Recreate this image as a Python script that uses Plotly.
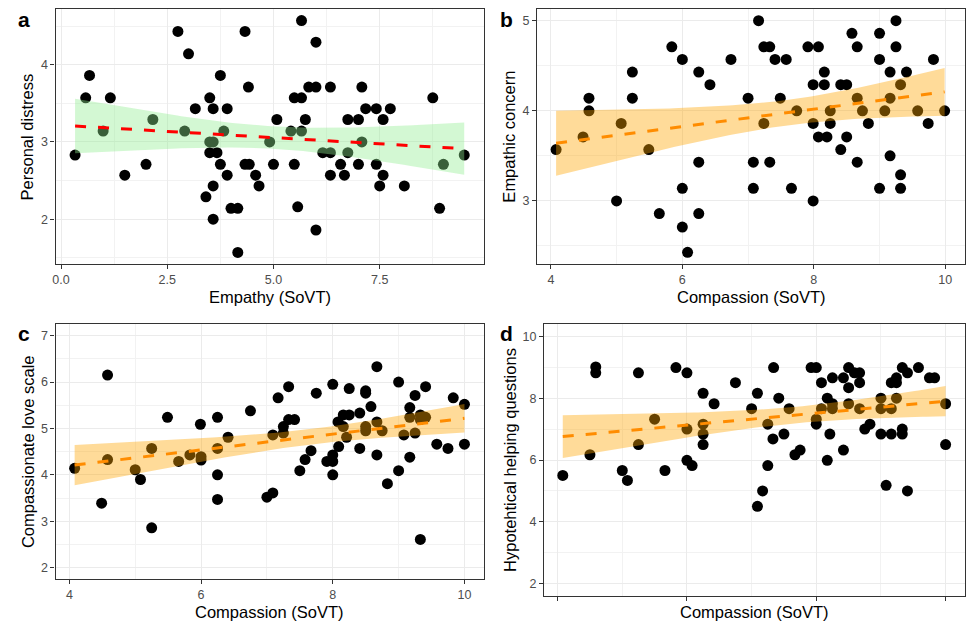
import numpy as np
import plotly.graph_objects as go

# ---------------- data ----------------
# Panel a: Empathy (SoVT) vs Personal distress
a_x = [0.33, 0.58, 0.67, 0.99, 1.16, 1.50, 2.00, 2.16, 2.75, 2.91, 3.00, 3.16, 3.41, 3.50, 3.50,
       3.50, 3.58, 3.58, 3.58, 3.58, 3.67, 3.75, 3.75, 3.83, 3.91, 3.91, 4.00, 4.16, 4.16, 4.33,
       4.33, 4.41, 4.43, 4.58, 4.66, 4.91, 5.00, 5.08, 5.41, 5.49, 5.49, 5.57, 5.66, 5.66, 5.66,
       5.75, 5.83, 6.00, 6.00, 6.00, 6.16, 6.34, 6.34, 6.34, 6.58, 6.67, 6.75, 6.75, 7.00, 7.00,
       7.08, 7.08, 7.17, 7.42, 7.42, 7.50, 7.58, 7.58, 7.75, 8.08, 8.75, 8.91, 9.00, 9.49]
a_y = [2.83, 3.57, 3.86, 3.14, 3.57, 2.57, 2.71, 3.29, 4.43, 3.14, 4.14, 3.43, 2.29, 3.57, 3.00,
       2.86, 3.43, 3.00, 2.43, 2.00, 2.86, 3.86, 2.71, 3.14, 3.43, 2.57, 2.14, 2.14, 1.57, 4.43,
       2.71, 3.71, 2.71, 2.57, 2.43, 3.00, 2.71, 3.29, 3.14, 3.57, 2.71, 2.16, 4.57, 3.57, 3.14,
       3.29, 3.71, 3.71, 4.29, 1.86, 2.86, 3.71, 2.86, 2.57, 2.71, 2.57, 3.29, 2.86, 3.29, 2.71,
       3.71, 3.00, 3.43, 3.43, 2.71, 2.43, 3.29, 2.57, 3.43, 2.43, 3.57, 2.14, 2.71, 2.83]

# Panel b: Compassion (SoVT) vs Empathic concern
b_x = [4.08, 4.49, 4.58, 4.58, 5.00, 5.07, 5.24, 5.24, 5.49, 5.65, 5.84, 6.00, 6.00, 6.00, 6.08,
       6.25, 6.25, 6.25, 6.42, 6.74, 7.00, 7.08, 7.08, 7.16, 7.24, 7.24, 7.33, 7.33, 7.41, 7.49,
       7.58, 7.66, 7.74, 7.91, 7.99, 7.99, 7.99, 8.07, 8.07, 8.16, 8.16, 8.20, 8.25, 8.25, 8.41,
       8.41, 8.50, 8.50, 8.58, 8.66, 8.66, 8.66, 8.74, 8.83, 9.00, 9.00, 9.00, 9.08, 9.16, 9.16,
       9.16, 9.25, 9.25, 9.32, 9.32, 9.32, 9.41, 9.58, 9.74, 9.82, 9.99]
b_y = [3.57, 3.71, 4.14, 4.00, 3.00, 3.86, 4.43, 4.14, 3.57, 2.86, 4.71, 4.57, 3.14, 2.71, 2.43,
       4.43, 3.43, 2.86, 4.29, 4.57, 4.14, 3.43, 3.14, 5.00, 4.71, 3.86, 4.71, 3.43, 4.57, 4.14,
       4.57, 3.14, 4.00, 4.71, 4.29, 3.86, 3.00, 4.71, 3.71, 4.43, 4.29, 3.71, 4.00, 3.86, 4.29,
       3.57, 4.29, 3.71, 4.86, 4.71, 4.14, 3.43, 4.00, 3.86, 4.86, 4.57, 3.14, 4.00, 4.43, 4.14,
       3.50, 5.00, 4.71, 4.29, 3.29, 3.14, 4.43, 4.00, 3.86, 4.57, 4.00]

# Panel c: Compassion (SoVT) vs Compassionate love scale
c_x = [4.08, 4.49, 4.58, 4.58, 5.00, 5.08, 5.25, 5.25, 5.49, 5.66, 5.83, 5.99, 6.00, 6.00, 6.25,
       6.25, 6.25, 6.25, 6.41, 6.75, 7.00, 7.09, 7.09, 7.17, 7.25, 7.25, 7.33, 7.33, 7.42, 7.50,
       7.58, 7.67, 7.75, 7.91, 8.00, 8.00, 8.00, 8.00, 8.08, 8.09, 8.16, 8.16, 8.21, 8.25, 8.25,
       8.41, 8.41, 8.50, 8.50, 8.50, 8.50, 8.58, 8.67, 8.67, 8.67, 8.75, 8.83, 9.00, 9.00, 9.08,
       9.17, 9.17, 9.17, 9.25, 9.25, 9.33, 9.33, 9.33, 9.41, 9.41, 9.58, 9.75, 9.83, 10.00, 10.00]
c_y = [4.14, 3.39, 6.15, 4.33, 4.11, 3.90, 4.57, 2.86, 5.24, 4.29, 4.43, 5.09, 4.39, 4.32, 5.24,
       4.57, 4.00, 3.47, 4.81, 5.38, 3.52, 3.61, 4.86, 5.66, 5.04, 4.90, 5.90, 5.19, 5.19, 4.09,
       4.33, 4.52, 5.76, 4.29, 5.95, 4.43, 4.29, 4.00, 5.14, 4.61, 5.29, 5.04, 4.81, 5.86, 5.29,
       5.33, 4.57, 5.81, 5.76, 5.04, 4.95, 5.47, 6.33, 5.14, 4.43, 4.95, 3.81, 6.00, 4.09, 4.86,
       5.45, 5.24, 4.38, 5.71, 4.90, 5.19, 2.61, 5.29, 5.90, 5.24, 4.66, 4.57, 5.66, 5.52, 4.66]

# Panel d: Compassion (SoVT) vs Hypotehtical helping questions
d_x = [4.08, 4.50, 4.59, 4.59, 5.00, 5.08, 5.25, 5.25, 5.50, 5.66, 5.83, 6.00, 6.00, 6.00, 6.08,
       6.25, 6.25, 6.25, 6.25, 6.42, 6.75, 7.00, 7.09, 7.09, 7.17, 7.25, 7.25, 7.33, 7.34, 7.42,
       7.50, 7.58, 7.67, 7.75, 7.92, 8.00, 8.00, 8.00, 8.08, 8.08, 8.17, 8.17, 8.21, 8.25, 8.25,
       8.25, 8.42, 8.42, 8.50, 8.50, 8.50, 8.59, 8.67, 8.67, 8.67, 8.75, 8.83, 9.00, 9.00, 9.00,
       9.08, 9.16, 9.16, 9.16, 9.24, 9.24, 9.24, 9.33, 9.33, 9.33, 9.41, 9.41, 9.58, 9.75, 9.83,
       10.00, 10.00]
d_y = [5.50, 6.17, 9.01, 8.82, 5.66, 5.34, 8.82, 6.50, 7.32, 5.66, 8.99, 8.82, 7.00, 5.99, 5.82,
       8.16, 7.16, 6.84, 6.50, 7.82, 8.50, 7.66, 8.16, 4.50, 5.00, 7.16, 5.82, 6.68, 8.99, 8.00,
       6.84, 7.66, 6.17, 6.32, 8.99, 8.99, 7.32, 7.16, 8.50, 7.66, 8.00, 5.99, 6.84, 8.66, 7.82,
       7.66, 8.66, 6.32, 8.99, 8.34, 7.82, 8.82, 8.82, 8.50, 7.66, 7.00, 7.16, 8.00, 7.66, 6.84,
       5.18, 8.50, 7.66, 6.84, 8.66, 8.50, 8.00, 8.99, 7.00, 6.84, 8.82, 5.00, 8.99, 8.66, 8.66,
       7.82, 6.50]

panel_letters = ["a", "b", "c", "d"]
x_titles = ["Empathy (SoVT)", "Compassion (SoVT)", "Compassion (SoVT)", "Compassion (SoVT)"]
y_titles = ["Personal distress", "Empathic concern", "Compassionate love scale",
            "Hypotehtical helping questions"]


def fit_band(x, y, n=100, t=1.993):
    x = np.asarray(x, float)
    y = np.asarray(y, float)
    b1, b0 = np.polyfit(x, y, 1)
    xs = np.linspace(x.min(), x.max(), n)
    yhat = b0 + b1 * xs
    resid = y - (b0 + b1 * x)
    N = len(x)
    s = np.sqrt(np.sum(resid ** 2) / (N - 2))
    sxx = np.sum((x - x.mean()) ** 2)
    se = s * np.sqrt(1.0 / N + (xs - x.mean()) ** 2 / sxx)
    return xs, yhat, yhat - t * se, yhat + t * se


W, H = 968, 622
FONT = "Liberation Sans, Arial, sans-serif"

# panel boxes in pixels: (left, right, top, bottom)
boxes = [(52.7, 482.7, 9, 264), (535.7, 965, 9, 264),
         (52.7, 482.7, 324, 579.3), (542.7, 965, 324, 596)]

panels = [
    dict(x=a_x, y=a_y, fill="rgba(144,238,144,0.4)", line="#FF0000",
         xr=[-0.13, 9.96], yr=[1.42, 4.72], xd=2.5, xm=1.25, yd=1, ym=0.5, xfmt=".1f", xlab=True),
    dict(x=b_x, y=b_y, fill="rgba(255,165,0,0.4)", line="#FF8C00",
         xr=[3.79, 10.3], yr=[2.30, 5.13], xd=2, xm=1, yd=1, ym=0.5, xfmt="", xlab=True),
    dict(x=c_x, y=c_y, fill="rgba(255,165,0,0.4)", line="#FF8C00",
         xr=[3.79, 10.3], yr=[1.75, 7.25], xd=2, xm=1, yd=1, ym=0.5, xfmt="", xlab=True),
    dict(x=d_x, y=d_y, fill="rgba(255,165,0,0.4)", line="#FF8C00",
         xr=[3.79, 10.3], yr=[1.6, 10.4], xd=2, xm=1, yd=2, ym=1, xfmt="", xlab=False),
]

fig = go.Figure()
annotations = []
layout_axes = {}

for i, p in enumerate(panels):
    k = "" if i == 0 else str(i + 1)
    xa, ya = "x" + k, "y" + k
    # points
    fig.add_trace(go.Scatter(x=p["x"], y=p["y"], mode="markers", xaxis=xa, yaxis=ya,
                             marker=dict(color="black", size=11, line=dict(width=0)),
                             showlegend=False, hoverinfo="skip"))
    xs, yh, lo, hi = fit_band(p["x"], p["y"])
    fig.add_trace(go.Scatter(x=xs, y=lo, mode="lines", line=dict(width=0), xaxis=xa, yaxis=ya,
                             showlegend=False, hoverinfo="skip"))
    fig.add_trace(go.Scatter(x=xs, y=hi, mode="lines", line=dict(width=0), fill="tonexty",
                             fillcolor=p["fill"], xaxis=xa, yaxis=ya,
                             showlegend=False, hoverinfo="skip"))
    fig.add_trace(go.Scatter(x=xs, y=yh, mode="lines", xaxis=xa, yaxis=ya,
                             line=dict(color=p["line"], width=3, dash="11px,12px"),
                             showlegend=False, hoverinfo="skip"))

    l, r, t, b = boxes[i]
    common = dict(showline=True, mirror=True, linecolor="#333333", linewidth=1.1,
                  ticks="outside", ticklen=4, tickcolor="#333333", tickwidth=1,
                  showgrid=True, gridcolor="#EBEBEB", gridwidth=1.1, zeroline=False,
                  tickfont=dict(family=FONT, size=12.5, color="#4D4D4D"))
    layout_axes["xaxis" + k] = dict(common, domain=[l / W, r / W], anchor=ya, range=p["xr"],
                                    tickmode="linear", tick0=0, dtick=p["xd"],
                                    tickformat=p["xfmt"], showticklabels=p["xlab"],
                                    minor=dict(tickmode="linear", tick0=0, dtick=p["xm"],
                                               showgrid=True, gridcolor="#F2F2F2",
                                               gridwidth=0.6, ticks=""))
    layout_axes["yaxis" + k] = dict(common, domain=[1 - b / H, 1 - t / H], anchor=xa,
                                    range=p["yr"], tickmode="linear", tick0=0, dtick=p["yd"],
                                    minor=dict(tickmode="linear", tick0=0, dtick=p["ym"],
                                               showgrid=True, gridcolor="#F2F2F2",
                                               gridwidth=0.6, ticks=""))
    # panel letter
    lx = 20.7 if i % 2 == 0 else 504.7
    ly = 19 if i < 2 else 333
    annotations.append(dict(text="<b>%s</b>" % panel_letters[i], x=lx / W, y=1 - ly / H,
                            xref="paper", yref="paper", showarrow=False,
                            xanchor="center", yanchor="middle",
                            font=dict(family=FONT, size=21, color="black")))
    # x title
    xt_y = 297 if i < 2 else 612
    annotations.append(dict(text=x_titles[i], x=(l + r) / 2 / W, y=1 - xt_y / H,
                            xref="paper", yref="paper", showarrow=False,
                            xanchor="center", yanchor="middle",
                            font=dict(family=FONT, size=16.5, color="black")))
    # y title
    yt_x = [25, 507.7, 24.5, 508.5][i]
    annotations.append(dict(text=y_titles[i], x=yt_x / W, y=1 - (t + b) / 2 / H,
                            xref="paper", yref="paper", showarrow=False, textangle=-90,
                            xanchor="center", yanchor="middle",
                            font=dict(family=FONT, size=16.5, color="black")))

fig.update_layout(width=W, height=H, margin=dict(l=0, r=0, t=0, b=0),
                  paper_bgcolor="white", plot_bgcolor="white",
                  annotations=annotations, **layout_axes)

fig.write_html("out.html", config={"displayModeBar": False},
               post_script="document.body.style.margin='0';"
                           "document.body.style.overflow='hidden';")
